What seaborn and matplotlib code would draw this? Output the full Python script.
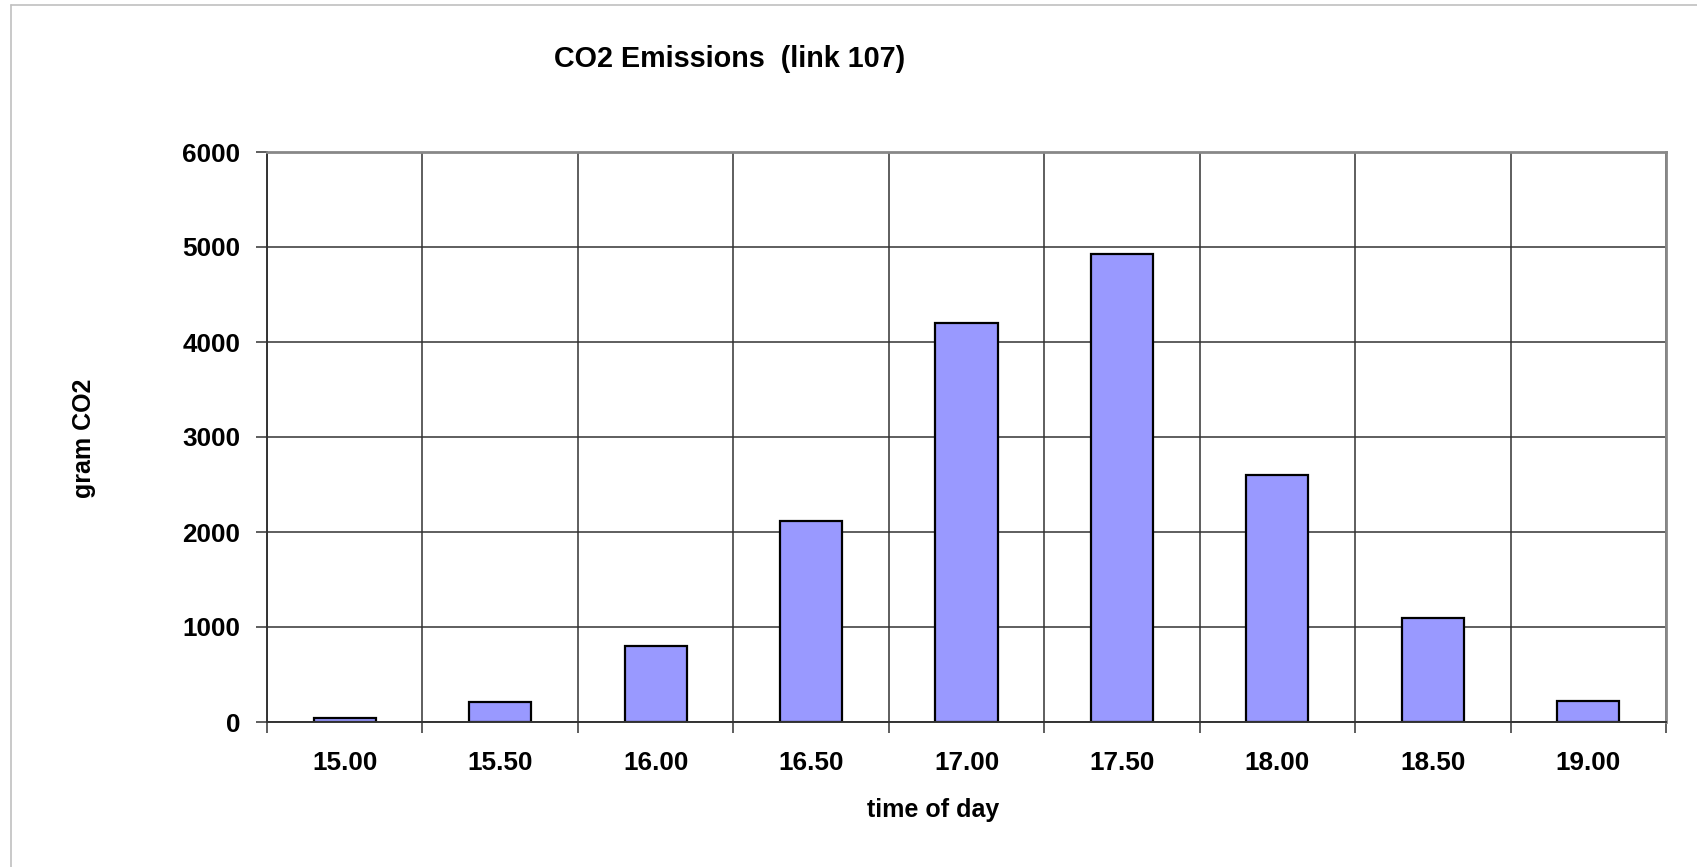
import matplotlib
matplotlib.use("Agg")
import matplotlib.pyplot as plt
import seaborn as sns
import pandas as pd
from matplotlib.lines import Line2D

# Data
times = ["15.00", "15.50", "16.00", "16.50", "17.00", "17.50", "18.00", "18.50", "19.00"]
co2_grams = [40, 210, 800, 2120, 4205, 4925, 2605, 1090, 222]
y_ticks = [0, 1000, 2000, 3000, 4000, 5000, 6000]

sns.set_theme(style="white")
plt.rcParams['font.family'] = ['Liberation Sans', 'DejaVu Sans']
plt.rcParams['text.color'] = 'black'
plt.rcParams['axes.labelcolor'] = 'black'
plt.rcParams['xtick.labelcolor'] = 'black'
plt.rcParams['ytick.labelcolor'] = 'black'

df = pd.DataFrame({"time": times, "co2": co2_grams})

W, H = 1697, 867
TOP, BOT, LEFT, RIGHT = 152, 722, 267, 1666
fig = plt.figure(figsize=(W / 100, H / 100), dpi=100)
fig.patch.set_facecolor("white")
ax = fig.add_axes([LEFT / W, 1 - BOT / H, (RIGHT - LEFT) / W, (BOT - TOP) / H])

sns.barplot(data=df, x="time", y="co2", ax=ax, color="#9999FF", width=0.4,
            edgecolor="black", linewidth=1.6, saturation=1)

n = len(times)
ax.set_xlim(-0.5, n - 0.5)
ax.set_ylim(0, 6000)

# y grid
ax.set_yticks(y_ticks)
ax.set_yticklabels([str(v) for v in y_ticks], fontsize=18.8, fontweight="bold")
ax.yaxis.grid(True, color="#333333", linewidth=1.1)
# x: labels at centres, tick marks + grid at boundaries
ax.set_xticks(range(n))
ax.set_xticklabels(times, fontsize=18.8, fontweight="bold")
ax.set_xticks([i - 0.5 for i in range(n + 1)], minor=True)
ax.xaxis.grid(True, which="minor", color="#333333", linewidth=1.1)
ax.xaxis.grid(False, which="major")
ax.tick_params(axis="x", which="major", length=0, pad=21)
ax.tick_params(axis="x", which="minor", length=8, width=1.1, color="#333333", bottom=True)
ax.tick_params(axis="y", which="major", length=8, width=1.1, color="#333333", pad=11, left=True)
ax.set_axisbelow(True)

for side in ["left", "bottom"]:
    ax.spines[side].set_color("#333333")
    ax.spines[side].set_linewidth(1.4)
for side in ["top", "right"]:
    ax.spines[side].set_visible(True)
    ax.spines[side].set_color("#888888")
    ax.spines[side].set_linewidth(2.0)

ax.set_xlabel("time of day", fontsize=18, fontweight="bold", va="center")
ax.xaxis.set_label_coords((933 - LEFT) / (RIGHT - LEFT), (BOT - 810) / (BOT - TOP))
ax.set_ylabel("gram CO2", fontsize=18, fontweight="bold", va="center")
ax.yaxis.set_label_coords((84 - LEFT) / (RIGHT - LEFT), (BOT - 438) / (BOT - TOP))

fig.text(730 / W, 1 - 59 / H, "CO2 Emissions  (link 107)", fontsize=20.7,
         fontweight="bold", ha="center", va="center")

# outer chart border (top and left visible)
fig.add_artist(Line2D([11 / W, 1], [1 - 5 / H, 1 - 5 / H], transform=fig.transFigure,
                      color="#c0c0c0", linewidth=1.2))
fig.add_artist(Line2D([11 / W, 11 / W], [0, 1 - 5 / H], transform=fig.transFigure,
                      color="#c0c0c0", linewidth=1.2))

fig.savefig("out.png", dpi=100, facecolor="white")
